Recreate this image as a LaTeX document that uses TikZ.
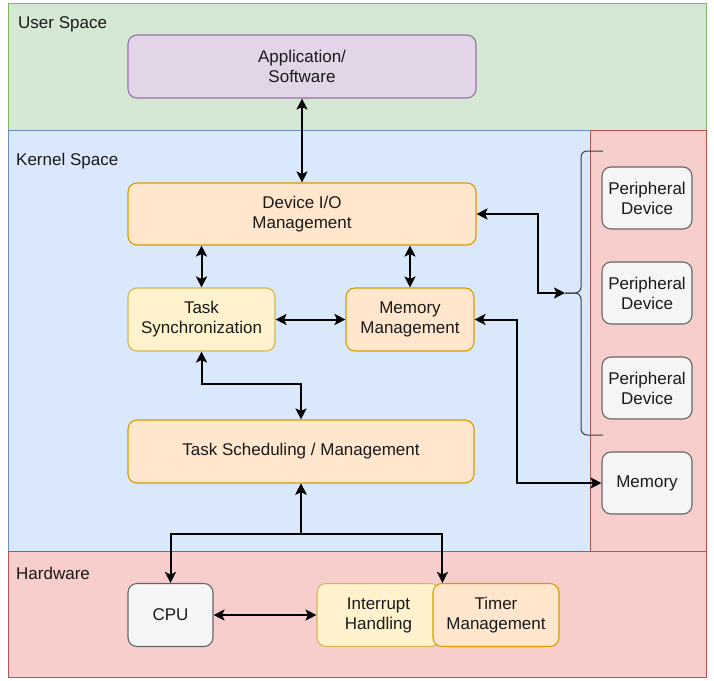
\documentclass[tikz,border=0pt]{standalone}
\usepackage{fontspec}
\setmainfont{Liberation Sans}
\usetikzlibrary{arrows.meta}
\definecolor{userfill}{HTML}{D5E8D4}
\definecolor{userline}{HTML}{82B366}
\definecolor{kernfill}{HTML}{DAE8FC}
\definecolor{kernline}{HTML}{6C8EBF}
\definecolor{hwfill}{HTML}{F8CECC}
\definecolor{hwline}{HTML}{B85450}
\definecolor{appfill}{HTML}{E1D5E7}
\definecolor{appline}{HTML}{9673A6}
\definecolor{mgmtfill}{HTML}{FFE6CC}
\definecolor{mgmtline}{HTML}{D79B00}
\definecolor{syncfill}{HTML}{FFF2CC}
\definecolor{syncline}{HTML}{D6B656}
\definecolor{devfill}{HTML}{F5F5F5}
\definecolor{devline}{HTML}{666666}
\definecolor{ink}{HTML}{1A1A1A}

\begin{document}
\begin{tikzpicture}[x=1pt,y=-1pt,>={Stealth[length=11pt,width=11pt,inset=2.5pt]},
  every node/.style={font=\fontsize{17}{20}\selectfont,text=ink},
  box/.style={rectangle,rounded corners=9pt,line width=1.1pt,align=center,inner sep=2pt},
  appbox/.style={box,draw=appline,fill=appfill},
  mgmtbox/.style={box,draw=mgmtline,fill=mgmtfill},
  syncbox/.style={box,draw=syncline,fill=syncfill},
  devbox/.style={box,draw=devline,fill=devfill,minimum width=90pt,minimum height=62pt},
  region/.style={line width=1pt},
  link/.style={<->,line width=2pt,draw=black},
  regionlabel/.style={anchor=west,inner sep=0pt}]
\useasboundingbox (0,0) rectangle (714,680);
\filldraw [region,fill=userfill,draw=userline] (8,3) rectangle (706,130);
\filldraw [region,fill=kernfill,draw=kernline] (8,130) rectangle (590,551);
\filldraw [region,fill=hwfill,draw=hwline] (590,130) rectangle (706,551);
\filldraw [region,fill=hwfill,draw=hwline] (8,551) rectangle (706,677);
\node (userlabel) at (18,24) [regionlabel] {User Space};
\node (kernlabel) at (16,161) [regionlabel] {Kernel Space};
\node (hwlabel) at (16,573) [regionlabel] {Hardware};
\node (app) at (302,66.5) [appbox,minimum width=348pt,minimum height=63pt] {Application/\\Software};
\node (dio) at (302,214) [mgmtbox,minimum width=348pt,minimum height=62pt] {Device I/O\\Management};
\node (tsync) at (201.5,319.5) [syncbox,minimum width=147pt,minimum height=63pt] {Task\\Synchronization};
\node (mmgmt) at (410,319.5) [mgmtbox,minimum width=128pt,minimum height=63pt] {Memory\\Management};
\node (tsched) at (301,451.5) [mgmtbox,minimum width=346pt,minimum height=63pt] {Task Scheduling / Management};
\node (per1) at (647,198) [devbox] {Peripheral\\Device};
\node (per2) at (647,293) [devbox] {Peripheral\\Device};
\node (per3) at (647,388) [devbox] {Peripheral\\Device};
\node (mem) at (647,483) [devbox] {Memory};
\node (cpu) at (170.5,615) [devbox,minimum width=85pt,minimum height=63pt] {CPU};
\node (intr) at (378.5,615) [syncbox,minimum width=123pt,minimum height=63pt] {Interrupt\\Handling};
\node (timer) at (496,615) [mgmtbox,minimum width=126pt,minimum height=63pt] {Timer\\Management};
\draw [line width=1pt,draw=ink!85,rounded corners=6pt] (603,151) -- (581,151) -- (581,293) -- (565,293);
\draw [line width=1pt,draw=ink!85,rounded corners=6pt] (603,435) -- (581,435) -- (581,293) -- (565,293);
\coordinate (brace) at (565,293);
\draw [link] (app) -- (dio);
\draw [link] (tsync.north |- dio.south) -- (tsync.north);
\draw [link] (mmgmt.north |- dio.south) -- (mmgmt.north);
\draw [link] (tsync) -- (mmgmt);
\draw [link] (tsync.south) -- ++(0,32) -| (tsched.north);
\draw [link] (dio.east) -- ++(61,0) |- (brace);
\draw [link] (mmgmt.east) -- ++(42,0) |- (mem.west);
\draw [link] (tsched.south) -- ++(0,50) -| (cpu.north);
\draw [link] (tsched.south) -- ++(0,50) -| ([xshift=10pt]timer.north west);
\draw [link] (cpu) -- (intr);
\end{tikzpicture}
\end{document}
